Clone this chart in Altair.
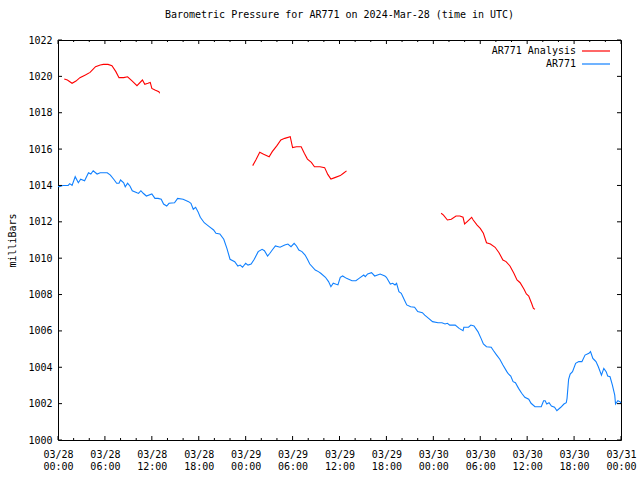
import altair as alt
import pandas as pd

# ---- data (hours since 2024-03-28 00:00 UTC) ----
obs_hours = [0.0, 0.2, 0.6, 1.3, 1.5, 1.8, 2.2, 2.6, 2.9, 3.4, 3.9, 4.2, 4.5, 5.0, 5.4, 5.8, 6.3, 6.7,
             7.2, 7.5, 7.8, 8.0, 8.4, 8.6, 8.9, 9.2, 9.5, 10.1, 10.3, 10.6, 10.9, 11.3, 12.0, 12.4,
             12.8, 13.2, 13.5, 13.9, 14.2, 14.9, 15.3, 16.0, 16.7, 17.0, 17.3, 17.6, 17.9, 18.2,
             18.7, 19.3, 19.9, 20.2, 20.7, 21.2, 21.6, 22.0, 22.6, 23.0, 23.3, 23.6, 24.0, 24.3,
             24.7, 25.1, 25.6, 26.1, 26.4, 26.8, 27.1, 27.4, 27.8, 28.4, 29.0, 29.4, 29.8, 30.2,
             30.5, 30.8, 31.2, 31.6, 31.9, 32.2, 32.9, 33.3, 33.6, 34.2, 34.6, 34.9, 35.2, 35.8,
             36.1, 36.4, 36.9, 37.6, 38.1, 38.5, 39.1, 39.3, 39.6, 40.1, 40.5, 41.2, 41.8, 42.0,
             42.5, 42.8, 43.1, 43.3, 43.6, 43.9, 44.3, 44.6, 45.1, 45.6, 46.0, 46.6, 46.9, 47.4,
             47.9, 48.6, 49.1, 49.5, 49.8, 50.1, 50.8, 51.3, 51.8, 51.9, 52.5, 52.8, 53.2, 53.7,
             54.1, 54.4, 54.8, 55.4, 55.7, 56.1, 56.5, 56.9, 57.4, 57.6, 57.9, 58.2, 58.5, 58.9,
             59.3, 59.7, 60.2, 60.5, 61.0, 61.8, 62.1, 62.3, 62.5, 62.8, 63.1, 63.5, 63.8, 64.3,
             64.7, 65.0, 65.1, 65.3, 65.5, 65.8, 66.2, 66.6, 67.0, 67.4, 67.9, 68.1, 68.4, 68.6,
             68.8, 69.1, 69.5, 69.8, 70.1, 70.3, 70.6, 70.9, 71.2, 71.3, 71.6, 71.9, 72.0]
obs_mb = [1013.95, 1013.93, 1014.0, 1014.0, 1014.1, 1014.0, 1014.48, 1014.15, 1014.34, 1014.26,
          1014.7, 1014.63, 1014.81, 1014.63, 1014.7, 1014.7, 1014.7, 1014.57, 1014.3, 1014.12,
          1014.12, 1014.3, 1014.15, 1013.93, 1014.12, 1013.97, 1013.71, 1013.6, 1013.57, 1013.71,
          1013.57, 1013.42, 1013.53, 1013.29, 1013.29, 1013.24, 1012.98, 1012.87, 1013.02, 1013.05,
          1013.29, 1013.24, 1013.11, 1013.02, 1012.69, 1012.8, 1012.56, 1012.25, 1011.95, 1011.75,
          1011.55, 1011.37, 1011.33, 1011.04, 1010.54, 1009.94, 1009.81, 1009.57, 1009.62, 1009.5,
          1009.72, 1009.62, 1009.68, 1009.94, 1010.36, 1010.49, 1010.41, 1010.12, 1010.27, 1010.45,
          1010.67, 1010.6, 1010.72, 1010.78, 1010.63, 1010.82, 1010.67, 1010.45, 1010.36, 1010.17,
          1009.94, 1009.68, 1009.35, 1009.26, 1009.17, 1008.95, 1008.71, 1008.43, 1008.62, 1008.53,
          1008.95, 1009.02, 1008.89, 1008.76, 1008.76, 1008.89, 1009.07, 1008.98, 1009.13, 1009.2,
          1009.02, 1009.13, 1009.02, 1008.95, 1008.58, 1008.62, 1008.53, 1008.62, 1008.16, 1008.07,
          1007.7, 1007.43, 1007.33, 1007.3, 1007.06, 1007.0, 1006.87, 1006.69, 1006.51, 1006.45,
          1006.45, 1006.38, 1006.42, 1006.32, 1006.32, 1006.14, 1006.01, 1006.2, 1006.2, 1006.32,
          1006.27, 1005.96, 1005.59, 1005.28, 1005.13, 1005.1, 1004.91, 1004.67, 1004.44, 1004.12,
          1003.76, 1003.63, 1003.52, 1003.21, 1003.15, 1002.84, 1002.57, 1002.35, 1002.24, 1002.02,
          1001.83, 1001.83, 1002.16, 1002.16, 1001.98, 1002.05, 1001.87, 1001.8, 1001.61, 1001.8,
          1001.98, 1002.05, 1002.29, 1003.34, 1003.63, 1003.76, 1004.22, 1004.31, 1004.31, 1004.67,
          1004.77, 1004.86, 1004.49, 1004.4, 1004.31, 1004.03, 1003.57, 1003.94, 1003.76, 1003.52,
          1003.48, 1003.02, 1002.47, 1001.98, 1002.16, 1002.1, 1002.02]

ana1_hours = [0.8, 1.2, 1.8, 2.3, 2.8, 3.5, 4.1, 4.8, 5.4, 5.8, 6.4, 6.9, 7.4, 7.8, 8.4, 8.9, 9.5,
              10.1, 10.8, 11.1, 11.5, 11.8, 12.0, 12.4, 12.9, 13.0]
ana1_mb = [1019.85, 1019.8, 1019.62, 1019.74, 1019.93, 1020.08, 1020.22, 1020.53, 1020.63, 1020.66,
           1020.66, 1020.59, 1020.26, 1019.93, 1019.93, 1019.98, 1019.74, 1019.49, 1019.8, 1019.56,
           1019.62, 1019.67, 1019.34, 1019.25, 1019.16, 1019.07]
ana2_hours = [24.9, 25.3, 25.8, 26.3, 27.0, 27.4, 28.0, 28.5, 29.0, 29.7, 30.0, 30.5, 31.1, 31.5,
              31.9, 32.4, 32.8, 33.5, 34.1, 34.5, 34.9, 35.4, 36.1, 36.5, 36.9]
ana2_mb = [1015.09, 1015.4, 1015.82, 1015.71, 1015.58, 1015.86, 1016.19, 1016.5, 1016.59, 1016.68,
           1016.08, 1016.13, 1016.13, 1015.77, 1015.45, 1015.27, 1015.03, 1015.03, 1014.98, 1014.61,
           1014.35, 1014.43, 1014.54, 1014.67, 1014.8]
ana3_hours = [49.0, 49.3, 49.8, 50.3, 50.9, 51.4, 51.8, 52.0, 52.3, 52.9, 53.1, 53.6, 54.0, 54.4,
              54.8, 55.3, 55.9, 56.4, 56.9, 57.3, 57.8, 58.3, 58.7, 59.1, 59.6, 59.9, 60.2, 60.6,
              60.8, 61.0]
ana3_mb = [1012.47, 1012.37, 1012.1, 1012.14, 1012.32, 1012.32, 1012.25, 1011.88, 1012.0, 1012.25,
           1012.1, 1011.82, 1011.64, 1011.37, 1010.85, 1010.78, 1010.6, 1010.3, 1009.9, 1009.81,
           1009.57, 1009.17, 1008.8, 1008.65, 1008.29, 1008.03, 1007.92, 1007.48, 1007.24, 1007.19]

series_names = ["AR771 Analysis", "AR771"]
series_colors = ["#ff0000", "#1080ff"]

x_major_ticks = [0, 6, 12, 18, 24, 30, 36, 42, 48, 54, 60, 66, 72]
x_minor_ticks = [2, 4, 8, 10, 14, 16, 20, 22, 26, 28, 32, 34, 38, 40, 44, 46, 50, 52, 56, 58,
                 62, 64, 68, 70]
x_tick_dates = ["03/28", "03/28", "03/28", "03/28", "03/29", "03/29", "03/29", "03/29",
                "03/30", "03/30", "03/30", "03/30", "03/31"]
x_tick_times = ["00:00", "06:00", "12:00", "18:00", "00:00", "06:00", "12:00", "18:00",
                "00:00", "06:00", "12:00", "18:00", "00:00"]
y_ticks = [1000, 1002, 1004, 1006, 1008, 1010, 1012, 1014, 1016, 1018, 1020, 1022]

# ---- tables ----
frames = [pd.DataFrame({"hour": obs_hours, "mb": obs_mb, "series": "AR771", "seg": "obs"})]
for i, (h, v) in enumerate([(ana1_hours, ana1_mb), (ana2_hours, ana2_mb), (ana3_hours, ana3_mb)]):
    frames.append(pd.DataFrame({"hour": h, "mb": v, "series": "AR771 Analysis", "seg": f"a{i}"}))
lines_df = pd.concat(frames, ignore_index=True)

xmaj_df = pd.DataFrame({"hour": x_major_ticks})
xmin_df = pd.DataFrame({"hour": x_minor_ticks})
ytk_df = pd.DataFrame({"mb": y_ticks})

FONT = "DejaVu Sans Mono"
W, H = 563, 400
MAJ, MINR = 4, 2

label_arr = "[" + ",".join(f"['{d}','{t}']" for d, t in zip(x_tick_dates, x_tick_times)) + "]"

x_scale = alt.Scale(domain=[0, 72], nice=False, zero=False)
y_scale = alt.Scale(domain=[1000, 1022], nice=False, zero=False)

x_axis = alt.Axis(values=x_major_ticks, labelExpr=f"{label_arr}[round(datum.value/6)]",
                  tickSize=0, domain=False, grid=False, title=None,
                  labelFont=FONT, labelFontSize=10, labelColor="black",
                  labelPadding=9, labelLineHeight=12.5, labelFlush=False, labelOverlap=False)
y_axis = alt.Axis(values=y_ticks, format="d", tickSize=0, domain=False, grid=False,
                  title="milliBars", titleFont=FONT, titleFontSize=10,
                  titleFontWeight="normal", titleColor="black", titlePadding=10,
                  labelFont=FONT, labelFontSize=10, labelColor="black",
                  labelPadding=6, labelFlush=False, labelOverlap=False)

lines = alt.Chart(lines_df).mark_line(strokeWidth=1.1, interpolate="linear").encode(
    x=alt.X("hour:Q", scale=x_scale, axis=x_axis),
    y=alt.Y("mb:Q", scale=y_scale, axis=y_axis),
    color=alt.Color("series:N", scale=alt.Scale(domain=series_names, range=series_colors),
                    legend=alt.Legend(title=None, orient="none", legendX=530, legendY=3,
                                      symbolType="M-2,0H2", symbolSize=196,
                                      symbolStrokeWidth=1.2, labelOffset={"expr": "-28"},
                                      rowPadding=0,
                                      labelAlign="right", labelFont=FONT, labelFontSize=10,
                                      labelColor="black", padding=0)),
    detail="seg:N",
    order="hour:Q",
)

def xticks(df, length, top):
    y0, y1 = (0, length) if top else (H - length, H)
    return alt.Chart(df).mark_rule(color="black", strokeWidth=1).encode(
        x=alt.X("hour:Q", scale=x_scale, axis=x_axis),
        y=alt.value(y0), y2=alt.value(y1))

def yticks(length, left):
    x0, x1 = (0, length) if left else (W - length, W)
    return alt.Chart(ytk_df).mark_rule(color="black", strokeWidth=1).encode(
        y=alt.Y("mb:Q", scale=y_scale, axis=y_axis),
        x=alt.value(x0), x2=alt.value(x1))

chart = alt.layer(
    lines,
    xticks(xmaj_df, MAJ, False), xticks(xmaj_df, MAJ, True),
    xticks(xmin_df, MINR, False), xticks(xmin_df, MINR, True),
    yticks(MAJ, True), yticks(MAJ, False),
).properties(
    width=W, height=H,
    title=alt.TitleParams("Barometric Pressure for AR771 on 2024-Mar-28 (time in UTC)",
                          font=FONT, fontSize=10, fontWeight="normal", color="black",
                          anchor="middle", offset=15),
    autosize=alt.AutoSizeParams(type="none"),
    padding={"left": 58, "top": 40, "right": 19, "bottom": 40},
    background="white",
).configure_view(stroke="black", strokeWidth=1)

chart.save("out.html", embed_options={"renderer": "svg", "actions": False})
